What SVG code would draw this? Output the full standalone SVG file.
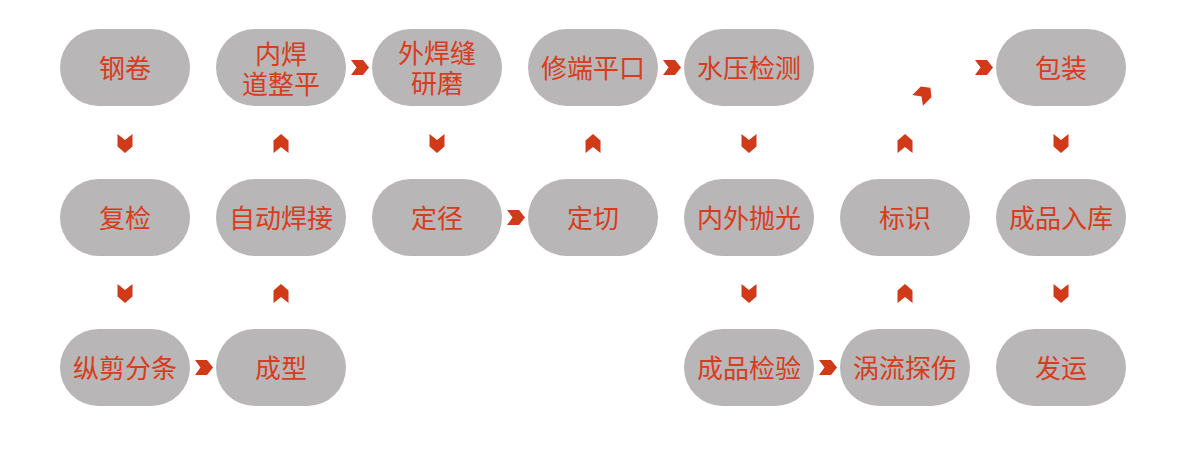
<svg xmlns="http://www.w3.org/2000/svg" width="1200" height="453" viewBox="0 0 1200 453">
<style>
.pill{fill:#b8b6b7}
.t{font-family:"Noto Sans CJK SC","Noto Sans",sans-serif;font-size:26px;fill:#d83c1c;text-anchor:middle}
.c{fill:#d03a18}
</style>
<defs>
<polygon id="ar" points="-9,-7.5 3,-7.5 9,0 3,7.5 -9,7.5 -3.5,0"/>
<polygon id="ad" points="-7.5,-9.5 0,-3.5 7.5,-9.5 7.5,3 0,9.5 -7.5,3"/>
<polygon id="au" points="-7.5,9.5 0,3.5 7.5,9.5 7.5,-3 0,-9.5 -7.5,-3"/>
</defs>
<rect width="1200" height="453" fill="#ffffff"/>
<g id="n1"><rect class="pill" x="60" y="29" width="130" height="77" rx="38.5"/><text class="t" x="125" y="77.5">钢卷</text></g>
<g id="n2"><rect class="pill" x="216" y="29" width="130" height="77" rx="38.5"/><text class="t" x="281" y="63.5">内焊</text><text class="t" x="281" y="93.5">道整平</text></g>
<g id="n3"><rect class="pill" x="372" y="29" width="130" height="77" rx="38.5"/><text class="t" x="437" y="63">外焊缝</text><text class="t" x="437" y="92.5">研磨</text></g>
<g id="n4"><rect class="pill" x="528" y="29" width="130" height="77" rx="38.5"/><text class="t" x="593" y="77.5">修端平口</text></g>
<g id="n5"><rect class="pill" x="684" y="29" width="130" height="77" rx="38.5"/><text class="t" x="749" y="77.5">水压检测</text></g>
<g id="n6"><rect class="pill" x="996" y="29" width="130" height="77" rx="38.5"/><text class="t" x="1061" y="77.5">包装</text></g>
<g id="n7"><rect class="pill" x="60" y="179" width="130" height="77" rx="38.5"/><text class="t" x="125" y="227.5">复检</text></g>
<g id="n8"><rect class="pill" x="216" y="179" width="130" height="77" rx="38.5"/><text class="t" x="281" y="227.5">自动焊接</text></g>
<g id="n9"><rect class="pill" x="372" y="179" width="130" height="77" rx="38.5"/><text class="t" x="437" y="227.5">定径</text></g>
<g id="n10"><rect class="pill" x="528" y="179" width="130" height="77" rx="38.5"/><text class="t" x="593" y="227.5">定切</text></g>
<g id="n11"><rect class="pill" x="684" y="179" width="130" height="77" rx="38.5"/><text class="t" x="749" y="227.5">内外抛光</text></g>
<g id="n12"><rect class="pill" x="840" y="179" width="130" height="77" rx="38.5"/><text class="t" x="905" y="227.5">标识</text></g>
<g id="n13"><rect class="pill" x="996" y="179" width="130" height="77" rx="38.5"/><text class="t" x="1061" y="227.5">成品入库</text></g>
<g id="n14"><rect class="pill" x="60" y="329" width="130" height="77" rx="38.5"/><text class="t" x="125" y="377.5">纵剪分条</text></g>
<g id="n15"><rect class="pill" x="216" y="329" width="130" height="77" rx="38.5"/><text class="t" x="281" y="377.5">成型</text></g>
<g id="n16"><rect class="pill" x="684" y="329" width="130" height="77" rx="38.5"/><text class="t" x="749" y="377.5">成品检验</text></g>
<g id="n17"><rect class="pill" x="840" y="329" width="130" height="77" rx="38.5"/><text class="t" x="905" y="377.5">涡流探伤</text></g>
<g id="n18"><rect class="pill" x="996" y="329" width="130" height="77" rx="38.5"/><text class="t" x="1061" y="377.5">发运</text></g>
<g id="connectors" class="c">
<use href="#ar" x="360" y="67.5"/>
<use href="#ar" x="672" y="67.5"/>
<use href="#ar" x="984" y="67.5"/>
<use href="#ar" x="516" y="217.5"/>
<use href="#ar" x="204" y="367.5"/>
<use href="#ar" x="828" y="367.5"/>
<use href="#ad" x="125" y="143.5"/>
<use href="#ad" x="437" y="143.5"/>
<use href="#ad" x="749" y="143.5"/>
<use href="#ad" x="1061" y="143.5"/>
<use href="#ad" x="125" y="293.5"/>
<use href="#ad" x="749" y="293.5"/>
<use href="#ad" x="1061" y="293.5"/>
<use href="#au" x="281" y="143.5"/>
<use href="#au" x="593" y="143.5"/>
<use href="#au" x="905" y="143.5"/>
<use href="#au" x="281" y="293.5"/>
<use href="#au" x="905" y="293.5"/>
<use href="#ar" transform="translate(924,94) rotate(-45)"/>
</g>
</svg>
